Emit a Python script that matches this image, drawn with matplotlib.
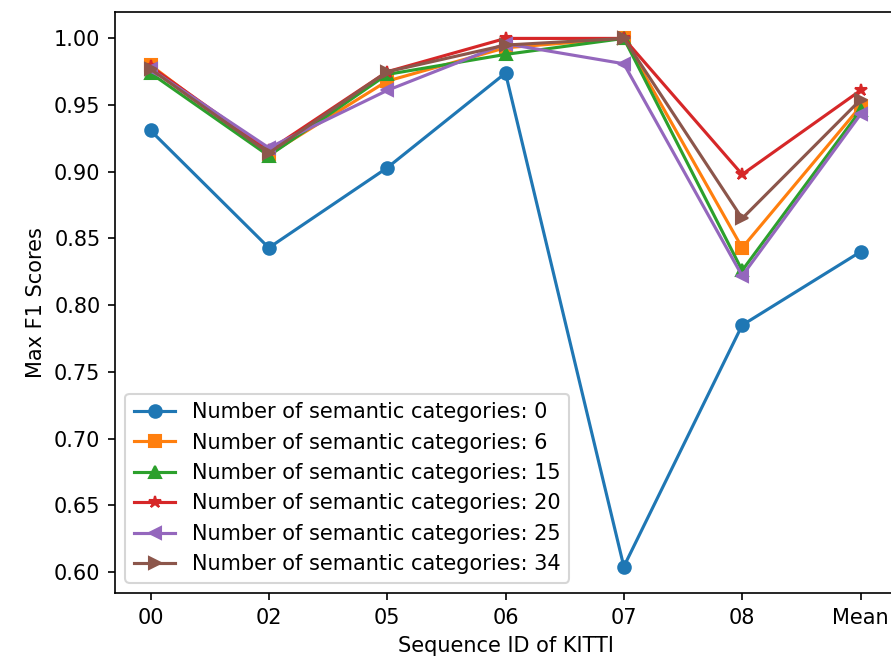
import matplotlib
matplotlib.use('Agg')
import matplotlib.pyplot as plt

seqs = ['00', '02', '05', '06', '07', '08', 'Mean']

f1_0 = [0.931, 0.843, 0.903, 0.974, 0.604, 0.785, 0.840]
f1_6 = [0.980, 0.913, 0.968, 0.993, 1.000, 0.843, 0.949]
f1_15 = [0.974, 0.912, 0.973, 0.988, 1.000, 0.826, 0.946]
f1_20 = [0.979, 0.916, 0.975, 1.000, 1.000, 0.898, 0.961]
f1_25 = [0.977, 0.918, 0.961, 0.996, 0.981, 0.822, 0.943]
f1_34 = [0.977, 0.914, 0.975, 0.995, 1.000, 0.865, 0.954]

series = [(0, f1_0, 'o'), (6, f1_6, 's'), (15, f1_15, '^'),
          (20, f1_20, '*'), (25, f1_25, '<'), (34, f1_34, '>')]

fig = plt.figure(figsize=(891 / 150, 661 / 150), dpi=150)
# the original was cropped on the right, so the axes run past the edge
ax = fig.add_axes([115 / 891, 68 / 661, 781 / 891, 581 / 661])

for n, vals, m in series:
    ax.plot(seqs, vals, marker=m, label=f'Number of semantic categories: {n}')

ax.spines['right'].set_visible(False)  # cut off in the reference
ax.set_xlabel('Sequence ID of KITTI')
ax.set_ylabel('Max F1 Scores')
ax.legend(loc='lower left')

fig.savefig('out.png', dpi=150)
